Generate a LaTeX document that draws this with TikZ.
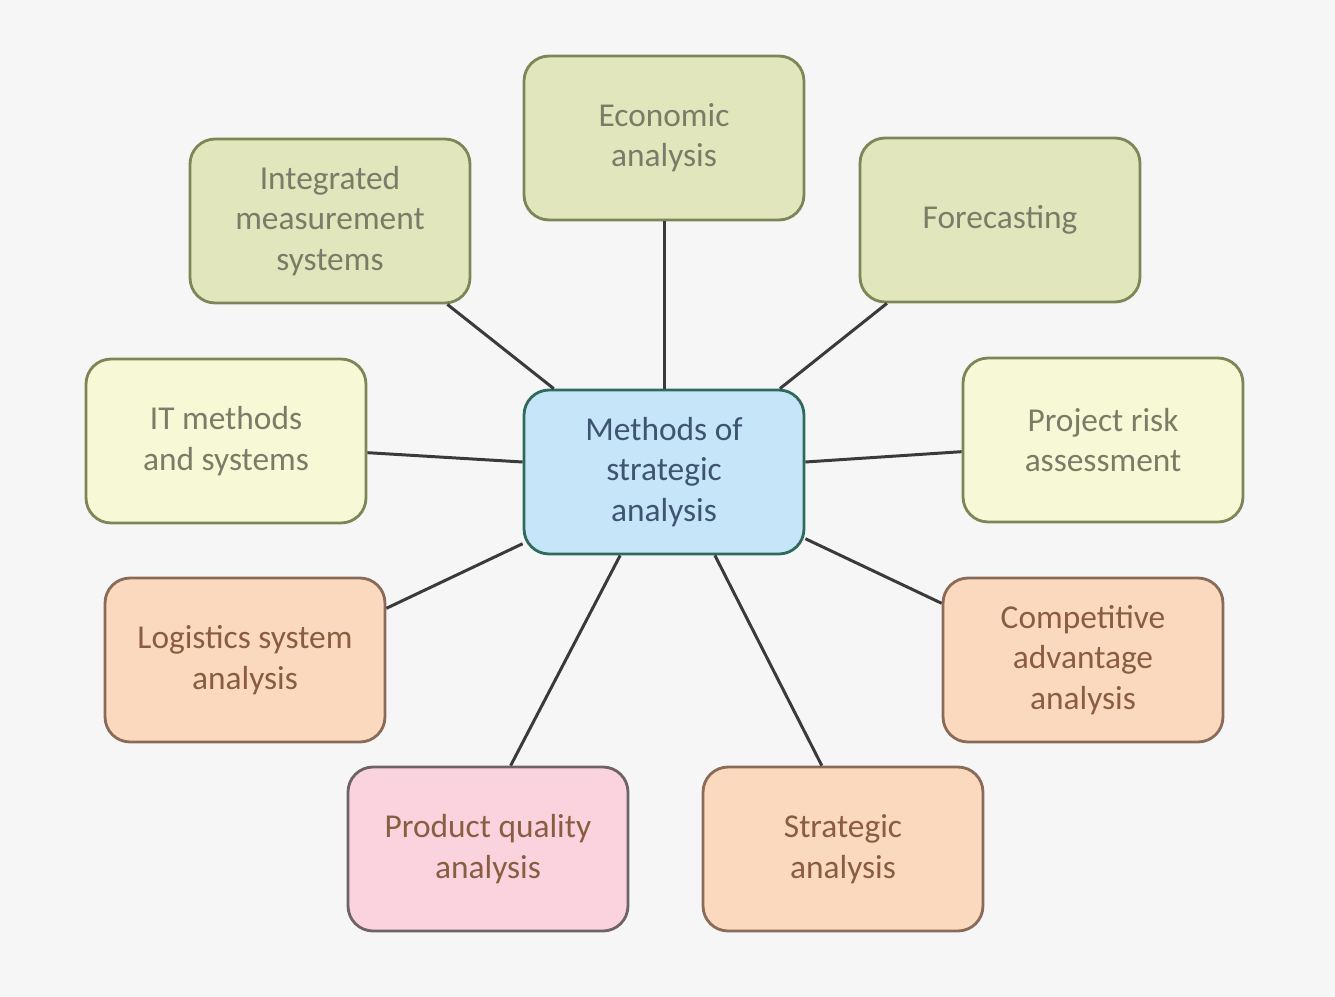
\documentclass[tikz,border=0pt]{standalone}
\usepackage{fontspec}
\setmainfont{Carlito}
\usetikzlibrary{calc}
\definecolor{bgc}{HTML}{F6F6F6}
\definecolor{olivefill}{HTML}{E2E6BC}
\definecolor{olivedraw}{HTML}{7C8656}
\definecolor{olivetext}{HTML}{7A7C68}
\definecolor{yellowfill}{HTML}{F6F8D6}
\definecolor{bluefill}{HTML}{C6E5F8}
\definecolor{bluedraw}{HTML}{2F6A5C}
\definecolor{bluetext}{HTML}{3E5470}
\definecolor{peachfill}{HTML}{FBD9BF}
\definecolor{peachdraw}{HTML}{8A6A58}
\definecolor{peachtext}{HTML}{8A5C40}
\definecolor{pinkfill}{HTML}{FAD3DE}
\definecolor{pinkdraw}{HTML}{6E6466}
\definecolor{linec}{HTML}{3A3A3A}
\tikzset{
  box/.style={rectangle, rounded corners=0.5cm, line width=1.6pt,
    minimum width=5.6cm, minimum height=3.28cm, align=center,
    font=\fontsize{19}{23}\selectfont, inner sep=2pt},
  olivebox/.style={box, fill=olivefill, draw=olivedraw, text=olivetext},
  yellowbox/.style={box, fill=yellowfill, draw=olivedraw, text=olivetext},
  centerbox/.style={box, fill=bluefill, draw=bluedraw, text=bluetext},
  peachbox/.style={box, fill=peachfill, draw=peachdraw, text=peachtext},
  pinkbox/.style={box, fill=pinkfill, draw=pinkdraw, text=peachtext},
  conn/.style={draw=linec, line width=1.7pt}
}
\begin{document}
\begin{tikzpicture}[x=0.02cm, y=-0.02cm]
\useasboundingbox[fill=bgc] (0,0) rectangle (1335,997);
% boxes
\node[olivebox]  (eco)  at (664,138) {Economic\\analysis};
\node[olivebox]  (int)  at (330,221) {Integrated\\measurement\\systems};
\node[olivebox]  (fore) at (1000,220) {Forecasting};
\node[yellowbox] (itm)  at (226,441) {IT methods\\and systems};
\node[centerbox] (ctr)  at (664,472) {Methods of\\strategic\\analysis};
\node[yellowbox] (prj)  at (1103,440) {Project risk\\assessment};
\node[peachbox]  (log)  at (245,660) {Logistics system\\analysis};
\node[peachbox]  (cmp)  at (1083,660) {Competitive\\advantage\\analysis};
\node[pinkbox]   (prq)  at (488,849) {Product quality\\analysis};
\node[peachbox]  (str)  at (843,849) {Strategic\\analysis};
% connectors (border to border)
\draw[conn] (eco.south) -- (ctr.north);
\draw[conn] ($(int.south west)!0.915!(int.south east)$) -- ($(ctr.north west)!0.11!(ctr.north east)$);
\draw[conn] ($(fore.south west)!0.10!(fore.south east)$) -- ($(ctr.north west)!0.91!(ctr.north east)$);
\draw[conn] ($(itm.north east)!0.57!(itm.south east)$) -- ($(ctr.north west)!0.44!(ctr.south west)$);
\draw[conn] ($(prj.north west)!0.57!(prj.south west)$) -- ($(ctr.north east)!0.44!(ctr.south east)$);
\draw[conn] ($(log.north east)!0.19!(log.south east)$) -- ($(ctr.north west)!0.93!(ctr.south west)$);
\draw[conn] ($(cmp.north west)!0.16!(cmp.south west)$) -- ($(ctr.north east)!0.90!(ctr.south east)$);
\draw[conn] ($(prq.north west)!0.58!(prq.north east)$) -- ($(ctr.south west)!0.345!(ctr.south east)$);
\draw[conn] ($(str.north west)!0.425!(str.north east)$) -- ($(ctr.south west)!0.68!(ctr.south east)$);
\end{tikzpicture}
\end{document}
